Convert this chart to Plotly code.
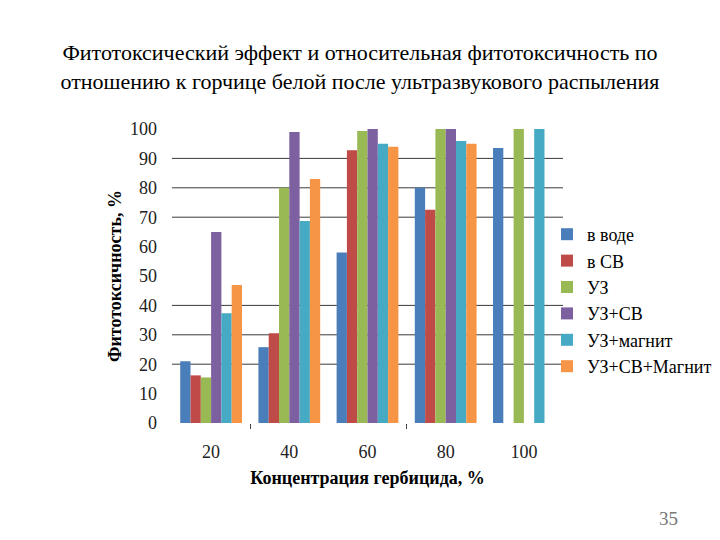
import plotly.graph_objects as go

categories = ["20", "40", "60", "80", "100"]
series_names = ["в воде", "в СВ", "УЗ", "УЗ+СВ", "УЗ+магнит", "УЗ+СВ+Магнит"]
v_voda = [21, 25.8, 58, 80, 93.5]
v_sv = [16.2, 30.5, 92.8, 72.5, None]
v_uz = [15.5, 80, 99.3, 100, 100]
v_uz_sv = [65, 99, 100, 100, None]
v_uz_magnit = [37.3, 68.7, 95, 95.9, 100]
v_uz_sv_magnit = [46.9, 83, 94, 95, None]
series_values = [v_voda, v_sv, v_uz, v_uz_sv, v_uz_magnit, v_uz_sv_magnit]
colors = ["#4A7EBB", "#BE4B48", "#98B954", "#7D60A0", "#46AAC5", "#F69546"]
y_ticks = [0, 10, 20, 30, 40, 50, 60, 70, 80, 90, 100]
grid_values = [20, 30, 40, 70, 80, 90]
boundary_ticks = [0.5, 2.5]

FONT = "Liberation Serif"
xpos = list(range(len(categories)))

fig = go.Figure()
for name, vals, c in zip(series_names, series_values, colors):
    fig.add_trace(go.Bar(x=xpos, y=vals, name=name, marker=dict(color=c, line=dict(width=0))))

fig.add_trace(go.Scatter(x=[0], y=[0], xaxis="x2", mode="markers",
                         marker=dict(opacity=0), showlegend=False, hoverinfo="skip"))

for g in grid_values:
    fig.add_shape(type="line", xref="paper", x0=0, x1=1, yref="y", y0=g, y1=g,
                  line=dict(color="#3a3a3a", width=1), layer="below")

fig.update_layout(
    width=720, height=540,
    margin=dict(l=172, r=157, t=129, b=117, autoexpand=False),
    paper_bgcolor="white", plot_bgcolor="white",
    barmode="group", bargap=0.21, bargroupgap=0,
    font=dict(family=FONT, color="black", size=16),
    title=dict(text="Фитотоксический эффект и относительная фитотоксичность по<br>отношению к горчице белой после ультразвукового распыления",
               x=0.5, xref="container", xanchor="center", y=1 - 60/540, yanchor="top",
               font=dict(family=FONT, size=22, color="black")),
    xaxis=dict(range=[-0.5, 4.5], tickvals=xpos, ticktext=categories, ticks="",
               showgrid=False, zeroline=False, showline=False, ticklabelstandoff=16,
               tickfont=dict(family=FONT, size=18, color="#222"),
               title=dict(text="<b>Концентрация гербицида, %</b>", standoff=10,
                          font=dict(family=FONT, size=18, color="black"))),
    xaxis2=dict(overlaying="x", range=[-0.5, 4.5], tickvals=boundary_ticks,
                showticklabels=False, ticks="outside", ticklen=5, tickcolor="#444",
                showgrid=False, zeroline=False, showline=False, anchor="y", side="bottom"),
    yaxis=dict(range=[0, 100], tickvals=y_ticks, showgrid=False, zeroline=False,
               showline=False, ticks="", ticklabelstandoff=14,
               tickfont=dict(family=FONT, size=18, color="#222"),
               title=dict(text="<b>Фитотоксичность, %</b>", standoff=3,
                          font=dict(family=FONT, size=18, color="black"))),
    legend=dict(x=547/720, xref="container", xanchor="left", y=1 - 216/540, yref="container", yanchor="top",
                font=dict(family=FONT, size=18, color="black"),
                tracegroupgap=0, itemwidth=30, bgcolor="rgba(0,0,0,0)"),
)

fig.add_annotation(text="35", xref="paper", yref="paper", x=1 + (668-563)/391, y=-(518-423)/294,
                   xanchor="center", yanchor="middle",
                   showarrow=False, font=dict(family=FONT, size=19, color="#777"))

fig.write_html("out.html")
